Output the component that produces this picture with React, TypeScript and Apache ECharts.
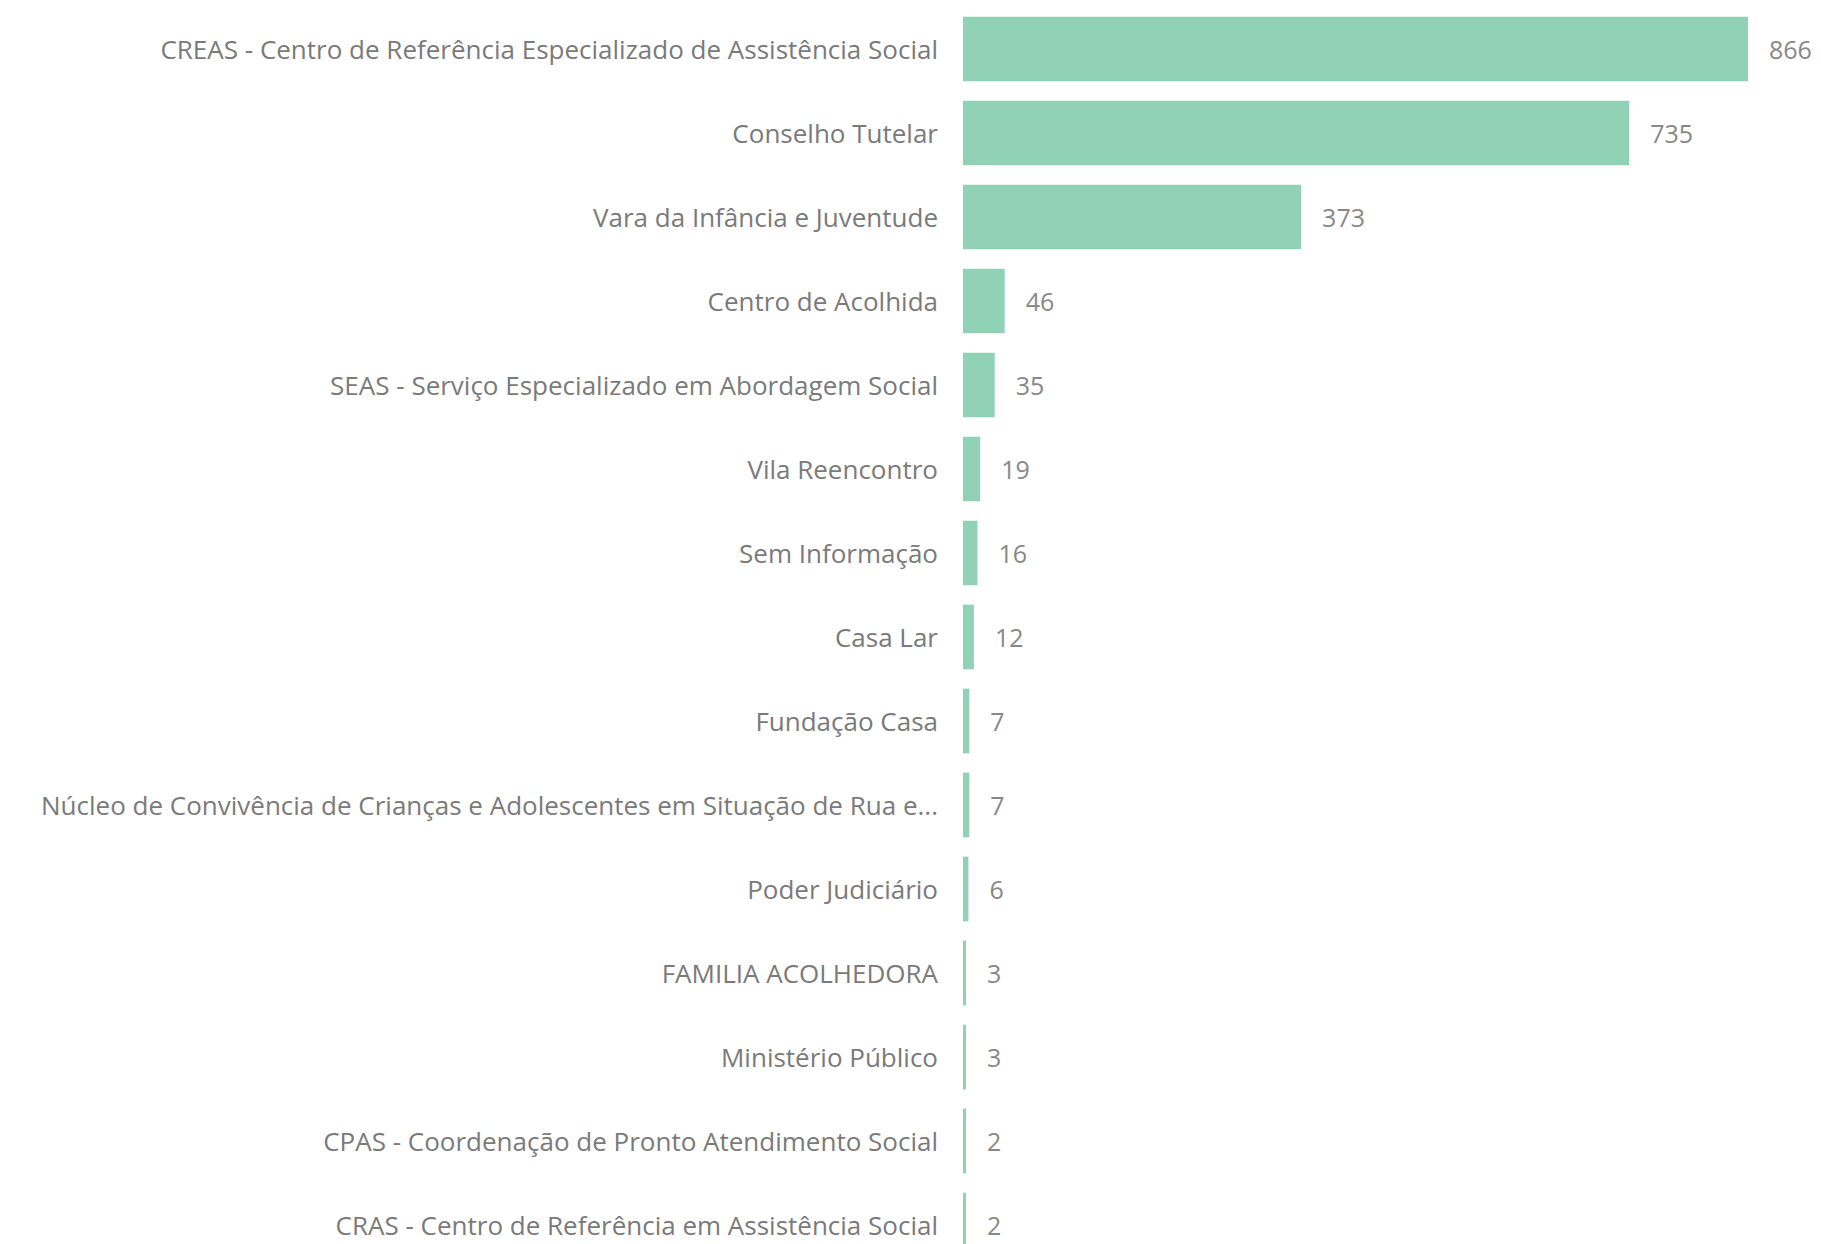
import React, { useEffect, useRef } from "react";
import * as echarts from "echarts";

const categories: string[] = [
  "CREAS - Centro de Referência Especializado de Assistência Social",
  "Conselho Tutelar",
  "Vara da Infância e Juventude",
  "Centro de Acolhida",
  "SEAS - Serviço Especializado em Abordagem Social",
  "Vila Reencontro",
  "Sem Informação",
  "Casa Lar",
  "Fundação Casa",
  "Núcleo de Convivência de Crianças e Adolescentes em Situação de Rua e...",
  "Poder Judiciário",
  "FAMILIA ACOLHEDORA",
  "Ministério Público",
  "CPAS - Coordenação de Pronto Atendimento Social",
  "CRAS - Centro de Referência em Assistência Social",
];

const values: number[] = [866, 735, 373, 46, 35, 19, 16, 12, 7, 7, 6, 3, 3, 2, 2];

export default function App() {
  const ref = useRef<HTMLDivElement>(null);
  useEffect(() => {
    document.body.style.margin = "0";
    if (!ref.current) return;
    const chart = echarts.init(ref.current, undefined, { renderer: "svg" });
    chart.setOption({
      animation: false,
      backgroundColor: "#ffffff",
      grid: { left: 963, top: 7, width: 785, height: 1260, containLabel: false },
      xAxis: {
        type: "value",
        min: 0,
        max: 866,
        show: false,
      },
      yAxis: {
        type: "category",
        data: categories,
        inverse: true,
        axisLine: { show: false },
        axisTick: { show: false },
        splitLine: { show: false },
        axisLabel: {
          fontFamily: "Open Sans, Noto Sans, sans-serif",
          fontSize: 26,
          color: "#7a7a7a",
          margin: 25,
        },
      },
      series: [
        {
          type: "bar",
          data: values,
          barCategoryGap: "23%",
          itemStyle: { color: "#91d2b7" },
          barMinHeight: 3,
          label: {
            show: true,
            position: "right",
            distance: 21,
            fontFamily: "Open Sans, Noto Sans, sans-serif",
            fontSize: 25,
            color: "#888888",
          },
        },
      ],
    });
    return () => chart.dispose();
  }, []);
  return (
    <div
      ref={ref}
      style={{ position: "absolute", left: 0, top: 0, width: 1821, height: 1270 }}
    />
  );
}
